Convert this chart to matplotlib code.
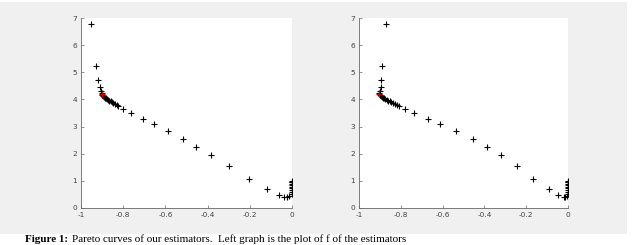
import numpy as np
import matplotlib.pyplot as plt
from matplotlib.patches import Rectangle

# shared objective values (y), different x for the two panels
y_vals = [6.79, 5.23, 4.70, 4.46, 4.31, 4.22, 4.17, 4.13, 4.10, 4.07, 4.04, 4.02,
          3.99, 3.96, 3.93, 3.90, 3.87, 3.83, 3.79, 3.76, 3.66, 3.51, 3.28, 3.11,
          2.85, 2.54, 2.26, 1.95, 1.55, 1.08, 0.70, 0.47, 0.39, 0.39, 0.43,
          0.52, 0.58, 0.65, 0.72, 0.78, 0.85, 0.90, 0.94, 0.97, 0.99]

x_left = [-0.953, -0.930, -0.919, -0.911, -0.907, -0.902, -0.899, -0.895, -0.891,
          -0.887, -0.882, -0.877, -0.872, -0.866, -0.860, -0.853, -0.846, -0.838,
          -0.830, -0.823, -0.800, -0.765, -0.706, -0.656, -0.588, -0.517, -0.455,
          -0.384, -0.299, -0.204, -0.118, -0.063, -0.036, -0.024, -0.013,
          0.0, 0.0, 0.0, 0.0, 0.0, 0.0, 0.0, 0.0, 0.0, 0.0]

x_right = [-0.871, -0.888, -0.893, -0.896, -0.899, -0.903, -0.900, -0.896, -0.892,
           -0.887, -0.881, -0.875, -0.868, -0.861, -0.853, -0.845, -0.836, -0.826,
           -0.817, -0.810, -0.778, -0.737, -0.670, -0.612, -0.534, -0.455, -0.388,
           -0.321, -0.243, -0.167, -0.092, -0.046, -0.021, -0.012, -0.005,
           0.0, 0.0, 0.0, 0.0, 0.0, 0.0, 0.0, 0.0, 0.0, 0.0]

# highlighted point (red)
red_left = (-0.902, 4.20)
red_right = (-0.903, 4.20)

xticks = [-1, -0.8, -0.6, -0.4, -0.2, 0]
yticks = [0, 1, 2, 3, 4, 5, 6, 7]

caption_head = "Figure 1:"
caption_body = ("Pareto curves of our estimators.  Left graph is the plot "
                "of f of the estimators")

fig = plt.figure(figsize=(6.4, 2.45), dpi=100)
fig.patch.set_facecolor('white')
# MATLAB-like grey figure background
fig.patches.append(Rectangle((0, 1 - 234 / 245), 627 / 640, 232 / 245,
                             transform=fig.transFigure, facecolor='#f0f0f0',
                             edgecolor='none', zorder=-10))

positions = [[81 / 640, 1 - 208 / 245, 211 / 640, 190 / 245],
             [359 / 640, 1 - 208 / 245, 209 / 640, 190 / 245]]

for pos, xs, red in zip(positions, [x_left, x_right], [red_left, red_right]):
    ax = fig.add_axes(pos)
    ax.plot(xs, y_vals, '+', color='black', markersize=4.5, markeredgewidth=0.8)
    ax.plot([red[0]], [red[1]], '+', color='#cc0000', markersize=4.5,
            markeredgewidth=0.8)
    ax.set_xlim(-1, 0)
    ax.set_ylim(0, 7)
    ax.set_xticks(xticks)
    ax.set_xticklabels(['-1', '-0.8', '-0.6', '-0.4', '-0.2', '0'])
    ax.set_yticks(yticks)
    ax.spines['top'].set_visible(False)
    ax.spines['right'].set_visible(False)
    for s in ['left', 'bottom']:
        ax.spines[s].set_color('#666666')
        ax.spines[s].set_linewidth(0.6)
    ax.tick_params(direction='in', length=2, width=0.5, colors='#666666',
                   labelsize=5.3, labelcolor='#444444', pad=3)
    ax.set_facecolor('white')

fig.text(25 / 640, 1.5 / 245, caption_head, ha='left', va='bottom',
         fontsize=8, family='Liberation Serif', weight='bold', color='black')
fig.text(72 / 640, 1.5 / 245, caption_body, ha='left', va='bottom',
         fontsize=8, family='Liberation Serif', color='black')

fig.savefig('out.png', dpi=100)
